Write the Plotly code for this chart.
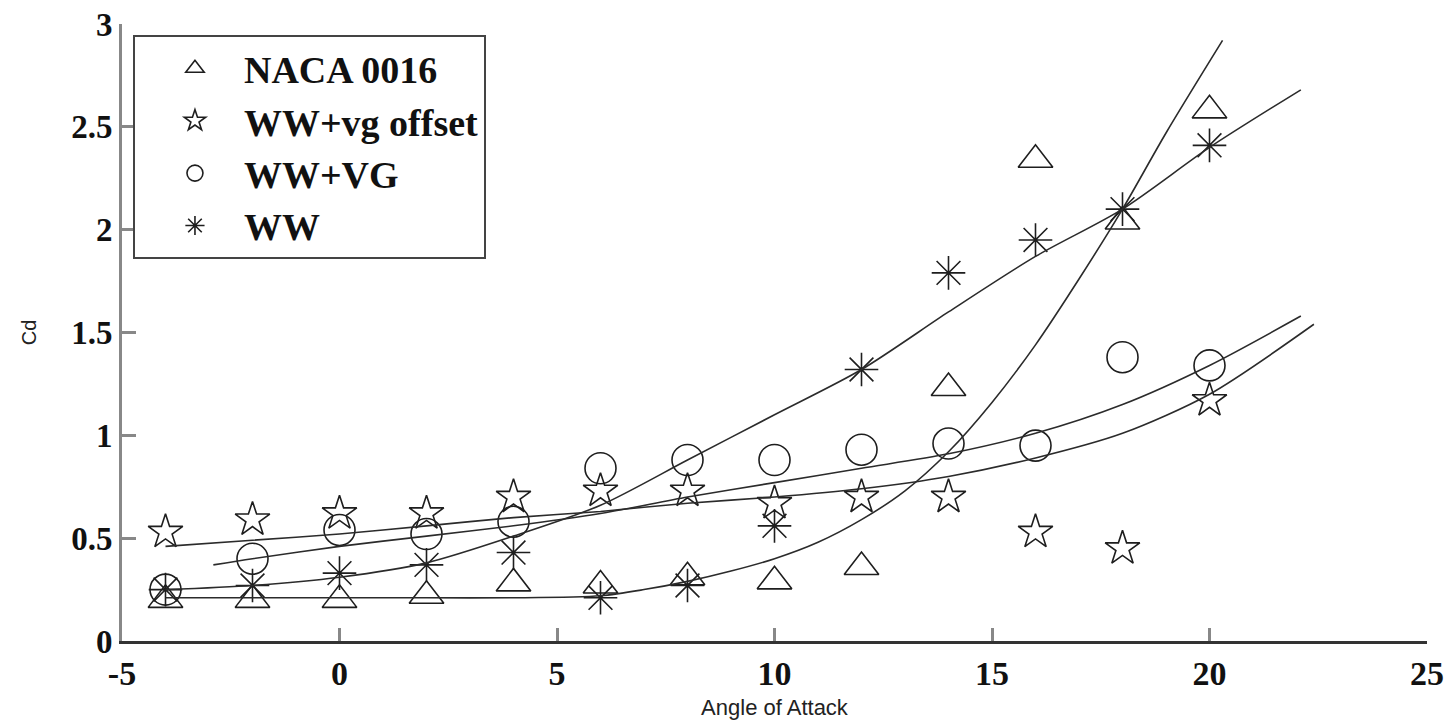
import plotly.graph_objects as go

# ---- data ----
aoa = [-4, -2, 0, 2, 4, 6, 8, 10, 12, 14, 16, 18, 20]
naca_0016 = [0.20, 0.20, 0.20, 0.22, 0.28, 0.27, 0.31, 0.29, 0.36, 1.23, 2.34, 2.04, 2.58]
ww_vg_offset = [0.53, 0.59, 0.62, 0.62, 0.70, 0.73, 0.73, 0.67, 0.70, 0.70, 0.53, 0.45, 1.17]
ww_vg = [0.25, 0.40, 0.54, 0.52, 0.58, 0.84, 0.88, 0.88, 0.93, 0.96, 0.95, 1.38, 1.34]
ww = [0.25, 0.27, 0.33, 0.37, 0.43, 0.21, 0.27, 0.56, 1.32, 1.79, 1.95, 2.10, 2.41]

# trend curves
naca_fit_x = [-4, -2, 0, 2, 4, 6, 7, 8, 9, 10, 11, 12, 13, 14, 15, 16, 17, 18, 19, 20.3]
naca_fit_y = [0.21, 0.21, 0.21, 0.21, 0.21, 0.22, 0.25, 0.29, 0.34, 0.40, 0.48, 0.59, 0.73, 0.92, 1.16, 1.44, 1.76, 2.10, 2.47, 2.92]
offset_fit_x = [-4, -2, 0, 2, 4, 6, 8, 10, 12, 14, 16, 18, 20, 22.4]
offset_fit_y = [0.46, 0.49, 0.52, 0.56, 0.60, 0.63, 0.67, 0.70, 0.74, 0.80, 0.89, 1.01, 1.20, 1.54]
vg_fit_x = [-2.9, -2, 0, 2, 4, 6, 8, 10, 12, 14, 16, 18, 20, 22.1]
vg_fit_y = [0.37, 0.40, 0.46, 0.51, 0.56, 0.62, 0.70, 0.77, 0.84, 0.91, 1.01, 1.15, 1.34, 1.58]
ww_fit_x = [-4, -2, 0, 2, 4, 6, 8, 10, 12, 14, 16, 18, 20, 22.1]
ww_fit_y = [0.25, 0.27, 0.31, 0.38, 0.51, 0.66, 0.88, 1.10, 1.32, 1.60, 1.87, 2.10, 2.40, 2.68]

x_ticks = [-5, 0, 5, 10, 15, 20, 25]
y_ticks = [0, 0.5, 1, 1.5, 2, 2.5, 3]
y_tick_labels = ["0", "0.5", "1", "1.5", "2", "2.5", "3"]

LINE = "#2b2b2b"
MK = "#1e1e1e"
SERIF = "Liberation Serif"

fig = go.Figure()

series = [
    ("NACA 0016", naca_0016, "triangle-up-open", 30),
    ("WW+vg offset", ww_vg_offset, "star-open", 26),
    ("WW+VG", ww_vg, "circle-open", 31),
    ("WW", ww, "asterisk-open", 28),
]
for name, ys, sym, size in series:
    fig.add_trace(go.Scatter(
        x=aoa, y=ys, mode="markers", name=name,
        marker=dict(symbol=sym, size=size, color=MK, line=dict(color=MK, width=1.6)),
    ))

for fx, fy in [(naca_fit_x, naca_fit_y), (offset_fit_x, offset_fit_y),
               (vg_fit_x, vg_fit_y), (ww_fit_x, ww_fit_y)]:
    fig.add_trace(go.Scatter(
        x=fx, y=fy, mode="lines", showlegend=False, hoverinfo="skip",
        line=dict(color=LINE, width=1.6, shape="spline", smoothing=0.8),
    ))

# page body has an 8px default margin, so the figure is sized to fit inside
fig.update_layout(
    width=1448, height=719,
    margin=dict(l=114, r=29, t=16, b=86),
    paper_bgcolor="white", plot_bgcolor="white",
    showlegend=True,
    legend=dict(
        x=0.0084, y=0.982, xanchor="left", yanchor="top",
        bgcolor="white", bordercolor="#444", borderwidth=2,
        font=dict(family=SERIF, size=38, color="#111", weight="bold"),
        itemwidth=88, indentation=11, tracegroupgap=0,
    ),
)

fig.update_xaxes(
    range=[-5, 25], tickvals=x_ticks, ticktext=[str(v) for v in x_ticks],
    showgrid=False, zeroline=False, automargin=False,
    showline=True, linecolor="#333", linewidth=3, mirror=False,
    ticks="inside", ticklen=13, tickwidth=3, tickcolor="#888",
    ticklabeloverflow="allow",
    tickfont=dict(family=SERIF, size=34, color="#111", weight="bold"),
    title=dict(text="Angle of Attack", standoff=9,
               font=dict(family="Liberation Sans", size=22, color="#222")),
)
fig.update_yaxes(
    range=[0, 3], tickvals=y_ticks, ticktext=y_tick_labels,
    showgrid=False, zeroline=False, automargin=False,
    showline=True, linecolor="#888", linewidth=3, mirror=False,
    ticks="inside", ticklen=14, tickwidth=3, tickcolor="#888",
    ticklabeloverflow="allow",
    tickfont=dict(family=SERIF, size=33, color="#111", weight="bold"),
    title=dict(text="Cd", standoff=30,
               font=dict(family="Liberation Sans", size=20, color="#222")),
)

fig.write_html("out.html")
